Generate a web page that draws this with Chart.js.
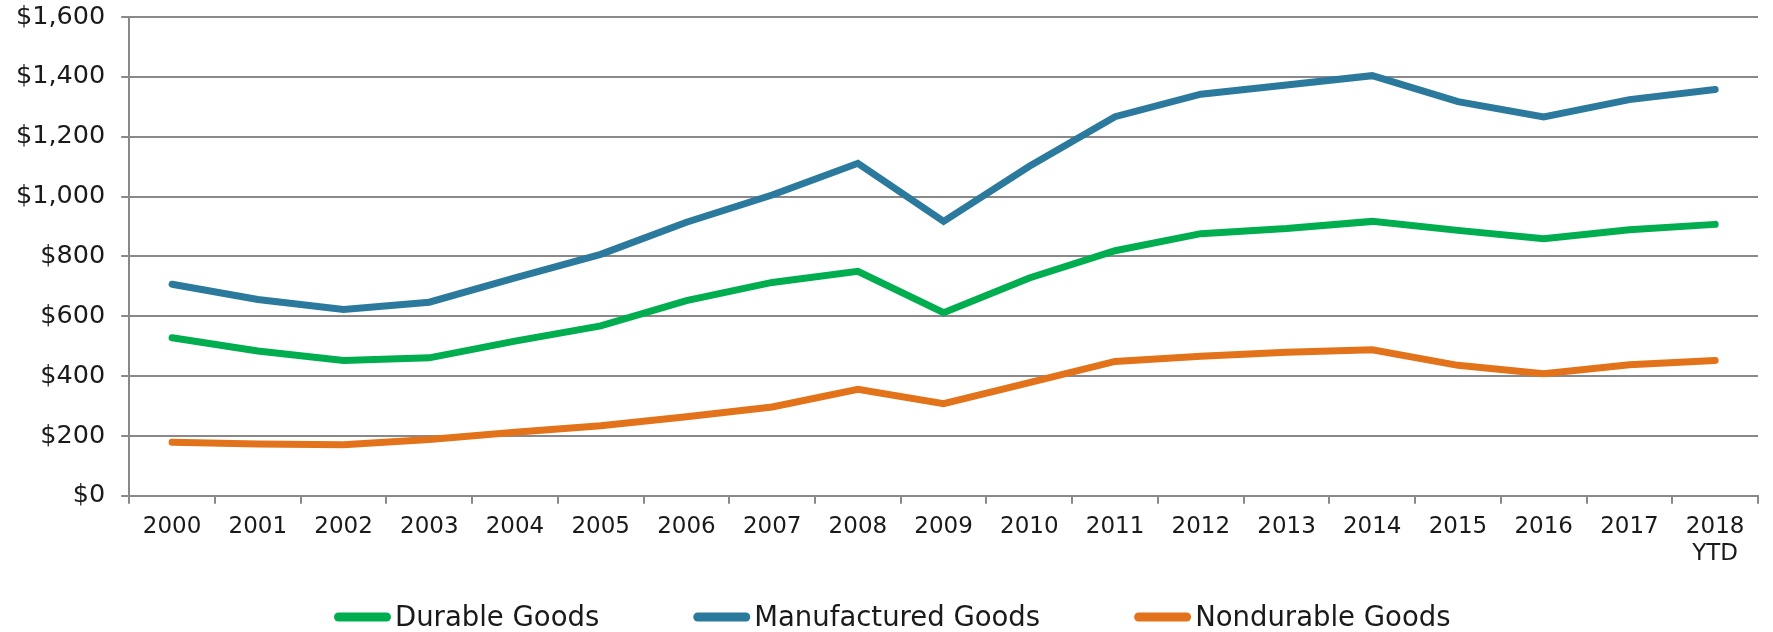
<!DOCTYPE html>
<html>
<head>
<meta charset="utf-8">
<script src="https://cdn.jsdelivr.net/npm/chart.js@4"></script>
<style>
  html, body { margin: 0; padding: 0; background: #fff; }
  #wrap { width: 1773px; height: 632px; position: relative; }
</style>
</head>
<body>
<div id="wrap"><canvas id="goodsChart"></canvas></div>
<script>
// ── Data ──────────────────────────────────────────────────────
const years = ['2000', '2001', '2002', '2003', '2004', '2005', '2006', '2007', '2008',
  '2009', '2010', '2011', '2012', '2013', '2014', '2015', '2016', '2017', ['2018', 'YTD']];
const durable      = [528, 484, 452, 461, 517, 568, 652, 713, 750, 612, 728, 819, 876, 893, 917, 887, 859, 889, 907];
const manufactured = [707, 656, 623, 647, 728, 807, 914, 1005, 1111, 917, 1101, 1267, 1342, 1373, 1404, 1317, 1266, 1324, 1358];
const nondurable   = [179, 173, 171, 188, 212, 234, 264, 297, 356, 308, 378, 449, 466, 480, 488, 436, 408, 438, 452];
const yTicks = [0, 200, 400, 600, 800, 1000, 1200, 1400, 1600];

const FONT = '"DejaVu Sans", sans-serif';
const GRID = '#898989';
const TEXT = '#1a1a1a';

// ── Legend drawn as thick round-capped lines ──────────────────
const lineLegend = {
  id: 'lineLegend',
  afterDraw(chart) {
    const ctx = chart.ctx;
    const markLen = 57, markGap = 4, itemGap = 94;
    let x = 334;
    const y = 617;
    ctx.save();
    ctx.font = '27.5px ' + FONT;
    chart.data.datasets.forEach(d => {
      ctx.strokeStyle = d.borderColor;
      ctx.lineWidth = 9;
      ctx.lineCap = 'round';
      ctx.beginPath();
      ctx.moveTo(x + 4.5, y);
      ctx.lineTo(x + markLen - 4.5, y);
      ctx.stroke();
      ctx.fillStyle = TEXT;
      ctx.textBaseline = 'alphabetic';
      ctx.fillText(d.label, x + markLen + markGap, y + 9);
      x += markLen + markGap + ctx.measureText(d.label).width + itemGap;
    });
    ctx.restore();
  }
};

const series = (label, data, color) => ({
  label, data,
  borderColor: color,
  backgroundColor: color,
  borderWidth: 7,
  borderCapStyle: 'round',
  borderJoinStyle: 'miter',
  pointRadius: 0,
  fill: false,
  tension: 0
});

new Chart(document.getElementById('goodsChart'), {
  type: 'line',
  data: {
    labels: years,
    datasets: [
      series('Durable Goods', durable, '#00ae4f'),
      series('Manufactured Goods', manufactured, '#2b7a9e'),
      series('Nondurable Goods', nondurable, '#e3731b')
    ]
  },
  options: {
    responsive: true,
    maintainAspectRatio: false,
    animation: false,
    layout: { padding: { top: 17, left: 0, right: 15, bottom: 55 } },
    plugins: {
      legend: { display: false },
      tooltip: { enabled: false }
    },
    scales: {
      x: {
        offset: true,
        grid: { drawOnChartArea: false, drawTicks: true, tickLength: 8, color: GRID, lineWidth: 2, offset: true },
        border: { color: GRID, width: 2 },
        ticks: { color: TEXT, font: { family: FONT, size: 23 }, padding: 9, maxRotation: 0, autoSkip: false }
      },
      y: {
        min: 0,
        max: 1600,
        afterBuildTicks: axis => { axis.ticks = yTicks.map(v => ({ value: v })); },
        afterFit: axis => { axis.paddingTop = 0; },
        grid: { color: GRID, lineWidth: 2, tickLength: 8 },
        border: { color: GRID, width: 2 },
        ticks: {
          color: TEXT,
          font: { family: FONT, size: 25.5 },
          padding: 16,
          callback: v => '$' + v.toLocaleString('en-US')
        }
      }
    }
  },
  plugins: [lineLegend]
});
</script>
</body>
</html>
